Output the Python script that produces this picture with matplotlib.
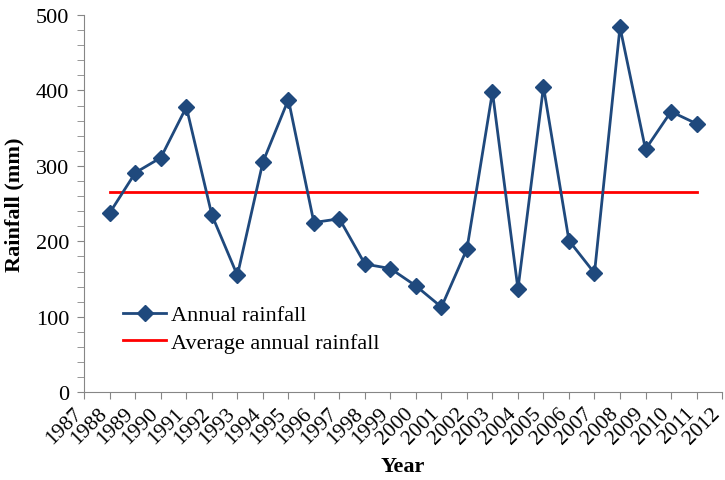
import matplotlib.pyplot as plt
import matplotlib.transforms as mtransforms
from matplotlib.ticker import MultipleLocator

# datos
years = [1988, 1989, 1990, 1991, 1992, 1993, 1994, 1995, 1996, 1997, 1998, 1999,
         2000, 2001, 2002, 2003, 2004, 2005, 2006, 2007, 2008, 2009, 2010, 2011]
rainfall = [238, 291, 311, 378, 235, 155, 305, 388, 225, 230, 170, 164,
            141, 113, 190, 398, 137, 405, 201, 158, 484, 322, 372, 356]
average = 266
year_ticks = list(range(1987, 2013))

plt.rcParams['font.family'] = ['Liberation Serif', 'DejaVu Serif']

fig = plt.figure(figsize=(7.25, 4.81), dpi=100)
ax = fig.add_axes([0.1163, 0.1823, 0.8796, 0.7844])

ax.plot(years, rainfall, color='#1F497D', lw=2, marker='D', ms=8,
        label='Annual rainfall', zorder=3)
ax.plot([years[0], years[-1]], [average, average], color='#FF0000', lw=2,
        label='Average annual rainfall', zorder=2)

ax.set_xlim(1987, 2012)
ax.set_ylim(0, 500)
ax.set_xticks(year_ticks)
ax.set_xticklabels([str(y) for y in year_ticks], rotation=45, ha='right',
                   va='center', rotation_mode='anchor', fontsize=15.5)
ax.yaxis.set_major_locator(MultipleLocator(100))
ax.yaxis.set_minor_locator(MultipleLocator(20))
ax.tick_params(axis='y', which='both', length=5, color='#868686',
               labelsize=16, pad=6)
ax.tick_params(axis='x', length=5, color='#868686', pad=8)

# correr un poco las etiquetas a la izquierda para que 2012 no se corte
desplaza = mtransforms.ScaledTranslation(-5 / 100, 0, fig.dpi_scale_trans)
for lbl in ax.get_xticklabels():
    lbl.set_transform(lbl.get_transform() + desplaza)

for s in ['top', 'right']:
    ax.spines[s].set_visible(False)
for s in ['left', 'bottom']:
    ax.spines[s].set_color('#868686')

ax.set_xlabel('Year', fontsize=16, fontweight='bold', labelpad=6)
ax.set_ylabel('Rainfall (mm)', fontsize=16, fontweight='bold', labelpad=8)

ax.legend(loc='upper left', bbox_to_anchor=(0.03, 0.285), frameon=False,
          fontsize=16, handlelength=1.9, handletextpad=0.25, labelspacing=0.3)

plt.savefig('out.png')
